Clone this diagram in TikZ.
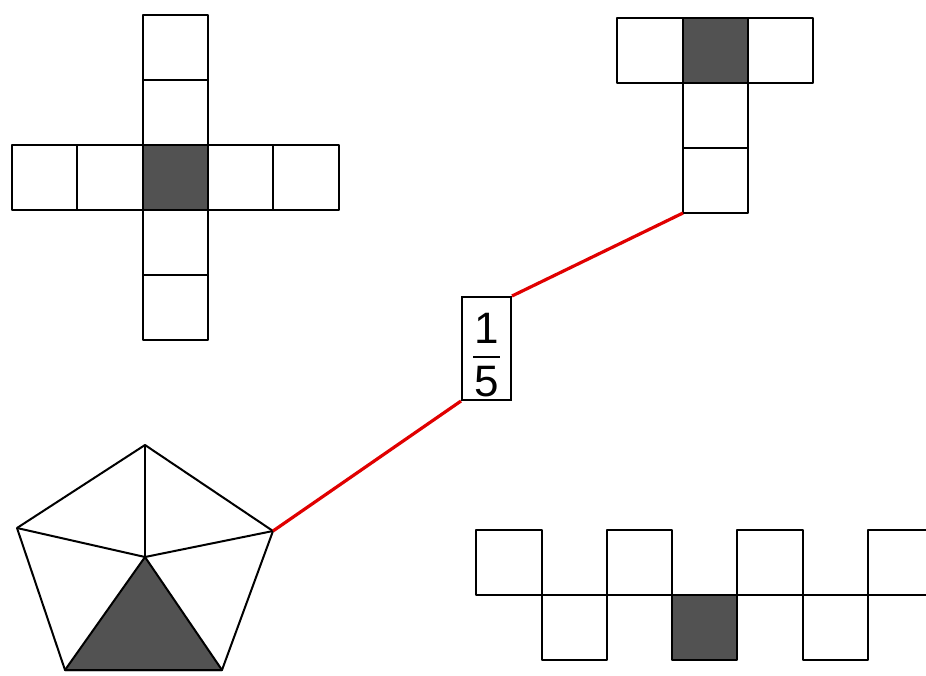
\documentclass[tikz,border=0pt]{standalone}
\usepackage{fontspec}
\setmainfont{Liberation Sans}
\usepackage{xcolor}
\usepackage{tikz}
\usetikzlibrary{calc,positioning}
\colorlet{colorLink}{red!88!black}
\colorlet{colorShade}{black!68}
\tikzset{
   cell/.style={draw=black, line width=1pt, line join=round},
   shaded/.style={cell, fill=colorShade},
   link/.style={draw=colorLink, line width=1.6pt},
   fracbox/.style={draw=black, line width=1pt, minimum width=24.5pt, minimum height=51.5pt, inner sep=0pt},
   digit/.style={font=\fontsize{22}{22}\selectfont, inner sep=0pt},
}
\begin{document}
\begin{tikzpicture}[x=0.5pt, y=-0.5pt]

\useasboundingbox (0,0) rectangle (926,675);

% =========================================================
% cross net
% =========================================================

\draw[cell] (143,15) rectangle (208,80);
\draw[cell] (143,80) rectangle (208,145);
\draw[cell] (143,210) rectangle (208,275);
\draw[cell] (143,275) rectangle (208,340);

\draw[cell] (12,145) rectangle (77,210);
\draw[cell] (77,145) rectangle (143,210);
\draw[cell] (208,145) rectangle (273,210);
\draw[cell] (273,145) rectangle (339,210);

\draw[shaded] (143,145) rectangle (208,210);


% =========================================================
% T net
% =========================================================

\draw[cell] (617,18) rectangle (683,83);
\draw[cell] (748,18) rectangle (813,83);
\draw[shaded] (683,18) rectangle (748,83);

\draw[cell] (683,83) rectangle (748,148);
\draw[cell] (683,148) rectangle (748,213);

\coordinate (tfoot) at (683,213);


% =========================================================
% pentagon net
% =========================================================

\coordinate (ptop) at (145,445);
\coordinate (pright) at (273,531);
\coordinate (pbr) at (222,670);
\coordinate (pbl) at (65,670);
\coordinate (pleft) at (17,528);
\coordinate (pmid) at (145,557);

\draw[shaded] (pmid) -- (pbr) -- (pbl) -- cycle;
\draw[cell] (ptop) -- (pright) -- (pbr) -- (pbl) -- (pleft) -- cycle;
\draw[cell] (pmid) -- (ptop);
\draw[cell] (pmid) -- (pleft);
\draw[cell] (pmid) -- (pright);


% =========================================================
% zigzag net
% =========================================================

\draw[cell] (476,530) rectangle (542,595);
\draw[cell] (607,530) rectangle (672,595);
\draw[cell] (737,530) rectangle (803,595);
\draw[cell] (926,530) -- (868,530) -- (868,595);

\draw[cell] (542,595) rectangle (607,660);
\draw[shaded] (672,595) rectangle (737,660);
\draw[cell] (803,595) rectangle (868,660);

\draw[cell] (476,595) -- (926,595);


% =========================================================
% fraction and links
% =========================================================

\node[fracbox] (frac) at (486.5,348.5) {};

\node[digit] (num) at (486.5,328) {1};
\node[digit] (den) at (486.5,382) {5};
\draw[line width=1pt] (473,357) -- (500,357);

\draw[link] (pright) -- (frac.south west);
\draw[link] (frac.north east) -- (tfoot);

\end{tikzpicture}
\end{document}
